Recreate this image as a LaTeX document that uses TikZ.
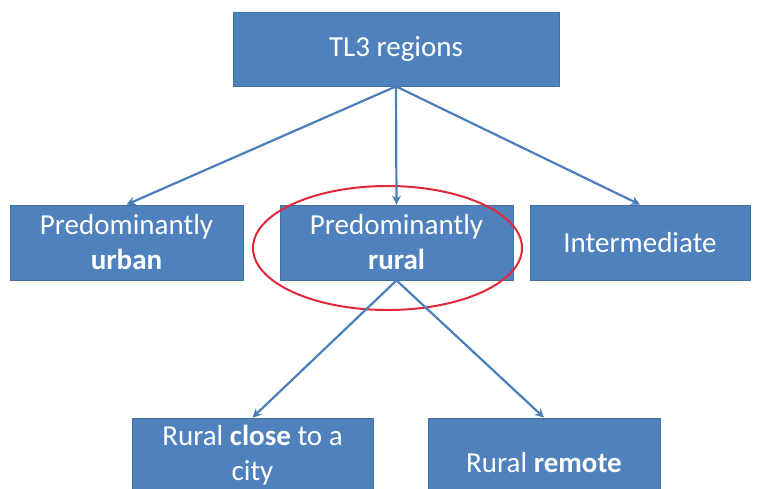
\documentclass[tikz,border=0pt]{standalone}
\usepackage{fontspec}
\setmainfont{Carlito}
\usetikzlibrary{arrows.meta,shapes.geometric}
\definecolor{boxblue}{HTML}{4F81BD}
\definecolor{boxedge}{HTML}{41719C}
\definecolor{arrblue}{HTML}{4A7EBB}
\definecolor{ringred}{HTML}{E0283A}
\tikzset{
  box/.style={fill=boxblue, draw=boxedge, line width=0.8pt, text=white,
    font=\fontsize{29}{35}\selectfont, align=center, inner sep=0pt},
  arr/.style={draw=arrblue, line width=2.2pt, -{Stealth[length=9pt,width=9pt]}},
  ring/.style={draw=ringred, line width=2pt}
}
\begin{document}
\begin{tikzpicture}[x=1pt,y=-1pt]
\useasboundingbox (0,0) rectangle (757,489);
\clip (0,0) rectangle (757,489);
\node[box, minimum width=326pt, minimum height=74pt] (top) at (396,49) {TL3 regions};
\node[box, minimum width=233pt, minimum height=75pt] (urban) at (126.5,242.5) {Predominantly\\\textbf{urban}};
\node[box, minimum width=233pt, minimum height=75pt] (rural) at (396.5,242.5) {Predominantly\\\textbf{rural}};
\node[box, minimum width=220pt, minimum height=75pt] (inter) at (640,242.5) {Intermediate};
\node[box, minimum width=241pt, minimum height=74pt] (close) at (252.5,455) {Rural \textbf{close} to a\\city};
\node[box, minimum width=232pt, minimum height=90pt] (remote) at (544,463) {Rural \textbf{remote}};
\node[ring, ellipse, minimum width=269pt, minimum height=124pt, inner sep=0pt] (oval) at (387.5,248) {};
\draw[arr] (top.south) -- (urban.north);
\draw[arr] (top.south) -- (rural.north);
\draw[arr] (top.south) -- (inter.north);
\draw[arr] (rural.south) -- (close.north);
\draw[arr] (rural.south) -- (remote.north);
\end{tikzpicture}
\end{document}
